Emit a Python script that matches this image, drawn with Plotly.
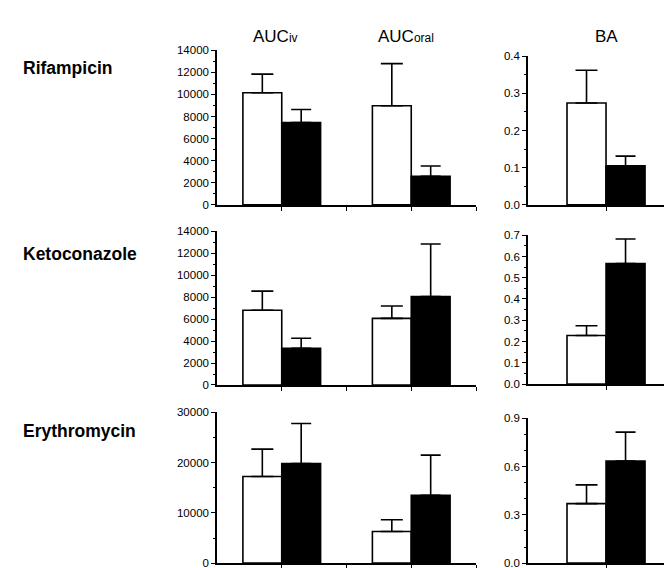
import plotly.graph_objects as go

# ---------------- data ----------------
drugs = ["Rifampicin", "Ketoconazole", "Erythromycin"]
auc_labels = ["AUC<span style='font-size:12px'>iv</span>",
              "AUC<span style='font-size:12px'>oral</span>"]
ba_label = "BA"

# AUC (iv, oral): control (white) / with co-drug (black)
rif_auc_ctrl = [10150, 8970]
rif_auc_ctrl_sd = [1690, 3820]
rif_auc_trt = [7460, 2580]
rif_auc_trt_sd = [1180, 940]

keto_auc_ctrl = [6810, 6070]
keto_auc_ctrl_sd = [1740, 1120]
keto_auc_trt = [3350, 8050]
keto_auc_trt_sd = [910, 4800]

ery_auc_ctrl = [17230, 6290]
ery_auc_ctrl_sd = [5460, 2350]
ery_auc_trt = [19830, 13480]
ery_auc_trt_sd = [7950, 8010]

# Bioavailability
rif_ba = [0.274, 0.105]
rif_ba_sd = [0.088, 0.026]
keto_ba = [0.228, 0.567]
keto_ba_sd = [0.046, 0.115]
ery_ba = [0.370, 0.635]
ery_ba_sd = [0.116, 0.179]

auc_ranges = [14000, 14000, 30000]
auc_dticks = [2000, 2000, 10000]
auc_minor = [1000, 1000, 5000]
ba_ranges = [0.4, 0.7, 0.9]
ba_dticks = [0.1, 0.1, 0.3]
ba_minor = [0.05, 0.05, 0.1]

# ---------------- layout geometry (pixels) ----------------
W, H = 672, 568
auc_x = (209, 468)
ba_x = (520, 672)
auc_rows = [(37, 195), (222, 379), (407, 561)]
ba_rows = [(43, 195), (226, 378), (413, 561)]
row_label_y = [55, 245, 426]

def px_x(a, b):
    return [a / W, b / W]

def px_y(top, bot):
    return [1 - bot / H, 1 - top / H]

FONT = "Liberation Sans, Arial, Helvetica, sans-serif"

fig = go.Figure()
layout = dict(
    width=W, height=H, margin=dict(l=0, r=0, t=0, b=0),
    paper_bgcolor="white", plot_bgcolor="white",
    showlegend=False, barmode="overlay",
    font=dict(family=FONT, color="black", size=11.5),
)

auc_data = [
    (rif_auc_ctrl, rif_auc_ctrl_sd, rif_auc_trt, rif_auc_trt_sd),
    (keto_auc_ctrl, keto_auc_ctrl_sd, keto_auc_trt, keto_auc_trt_sd),
    (ery_auc_ctrl, ery_auc_ctrl_sd, ery_auc_trt, ery_auc_trt_sd),
]
ba_data = [(rif_ba, rif_ba_sd), (keto_ba, keto_ba_sd), (ery_ba, ery_ba_sd)]

def add_bar(x, y, sd, color, xa, ya, offset, width, cap):
    fig.add_trace(go.Bar(
        x=x, y=y, xaxis=xa, yaxis=ya, offset=offset, width=width,
        marker=dict(color=color, line=dict(color="black", width=1.6)),
        error_y=dict(type="data", symmetric=False, array=sd,
                     arrayminus=[0] * len(sd), color="black",
                     thickness=1.6, width=cap),
        hoverinfo="skip",
    ))

def axis_common():
    return dict(showline=True, linecolor="black", linewidth=1.5,
                showgrid=False, zeroline=False, ticks="outside",
                tickcolor="black", tickwidth=1.2, ticklen=4)

n = 1
annotations = []
for r in range(3):
    # AUC panel
    xa_name = "xaxis" if n == 1 else f"xaxis{n}"
    ya_name = "yaxis" if n == 1 else f"yaxis{n}"
    xa = "x" if n == 1 else f"x{n}"
    ya = "y" if n == 1 else f"y{n}"
    ctrl, ctrl_sd, trt, trt_sd = auc_data[r]
    cats = list(range(len(ctrl)))
    add_bar(cats, ctrl, ctrl_sd, "white", xa, ya, -0.3, 0.3, 11)
    add_bar(cats, trt, trt_sd, "black", xa, ya, 0.0, 0.3, 10)
    layout[xa_name] = dict(axis_common(), domain=px_x(*auc_x), anchor=ya,
                           range=[-0.5, 1.5], tickvals=[0, 0.5, 1, 1.5],
                           showticklabels=False, fixedrange=True)
    layout[ya_name] = dict(axis_common(), domain=px_y(*auc_rows[r]), anchor=xa,
                           range=[0, auc_ranges[r]], dtick=auc_dticks[r], tick0=0,
                           tickformat="d",
                           minor=dict(dtick=auc_minor[r], ticks="outside",
                                      ticklen=2, tickcolor="black", tickwidth=1),
                           fixedrange=True)
    n += 1
    # BA panel
    xa_name = f"xaxis{n}"
    ya_name = f"yaxis{n}"
    xa = f"x{n}"
    ya = f"y{n}"
    vals, sds = ba_data[r]
    add_bar([0], [vals[0]], [sds[0]], "white", xa, ya, -0.25, 0.25, 11)
    add_bar([0], [vals[1]], [sds[1]], "black", xa, ya, 0.0, 0.25, 10)
    layout[xa_name] = dict(axis_common(), domain=px_x(*ba_x), anchor=ya,
                           range=[-0.5, 0.474], tickvals=[0],
                           showticklabels=False, fixedrange=True)
    layout[ya_name] = dict(axis_common(), domain=px_y(*ba_rows[r]), anchor=xa,
                           range=[0, ba_ranges[r]], dtick=ba_dticks[r], tick0=0,
                           tickformat=".1f",
                           minor=dict(dtick=ba_minor[r], ticks="outside",
                                      ticklen=2, tickcolor="black", tickwidth=1),
                           fixedrange=True)
    n += 1

    annotations.append(dict(text=drugs[r], xref="paper", yref="paper",
                            x=13 / W, y=1 - row_label_y[r] / H,
                            xanchor="left", yanchor="middle", showarrow=False,
                            font=dict(family=FONT, size=17.5, color="black",
                                      weight="bold")))

# column headers
header_x = [267, 398]
for i, lab in enumerate(auc_labels):
    annotations.append(dict(text=lab, xref="paper", yref="paper",
                            x=header_x[i] / W, y=1 - 23 / H,
                            xanchor="center", yanchor="middle", showarrow=False,
                            font=dict(family=FONT, size=17, color="black")))
annotations.append(dict(text=ba_label, xref="paper", yref="paper",
                        x=598.5 / W, y=1 - 23 / H,
                        xanchor="center", yanchor="middle", showarrow=False,
                        font=dict(family=FONT, size=17, color="black")))

layout["annotations"] = annotations
fig.update_layout(**layout)
fig.write_html("out.html")
